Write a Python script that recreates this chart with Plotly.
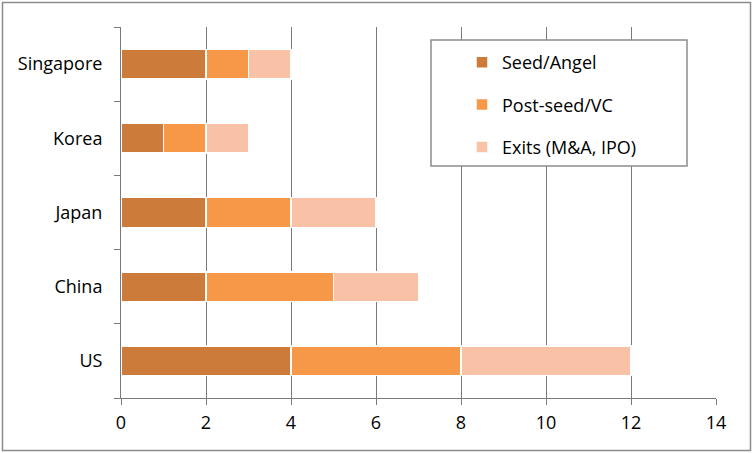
import plotly.graph_objects as go

categories = ["US", "China", "Japan", "Korea", "Singapore"]
seed_angel = [4, 2, 2, 1, 2]
post_seed_vc = [4, 3, 2, 1, 1]
exits = [4, 2, 2, 1, 1]
series_names = ["Seed/Angel", "Post-seed/VC", "Exits (M&A, IPO)"]
colors = ["#CD7B3B", "#F79848", "#F9C2A7"]
x_ticks = [0, 2, 4, 6, 8, 10, 12, 14]

fig = go.Figure()
for i, (name, vals) in enumerate(zip(series_names, [seed_angel, post_seed_vc, exits])):
    fig.add_trace(go.Bar(
        y=categories, x=vals, name=name, orientation="h",
        marker=dict(color=colors[i], line=dict(color="white", width=1.5)),
        legendgroup=f"g{i}",
    ))

L, R, T, B = 121, 37, 27, 55
W, H = 753, 453
pw, ph = W - L - R, H - T - B

def px_x(px):
    return (px - L) / pw

def px_y(py):
    return (H - B - py) / ph

fig.update_layout(
    width=W, height=H,
    margin=dict(l=L, r=R, t=T, b=B, pad=0, autoexpand=False),
    barmode="stack", bargap=0.6,
    plot_bgcolor="white", paper_bgcolor="white",
    font=dict(family="Open Sans, Lato, sans-serif", size=18, color="black"),
    showlegend=True,
    legend=dict(
        x=px_x(462), y=px_y(44), xanchor="left", yanchor="top",
        bgcolor="rgba(0,0,0,0)", borderwidth=0,
        traceorder="grouped", tracegroupgap=16,
        font=dict(size=18),
    ),
    xaxis=dict(
        range=[0, 14], tickvals=x_ticks, showgrid=True, gridcolor="#7a7a7a", gridwidth=1,
        zeroline=False, showline=True, linecolor="#7a7a7a", linewidth=1,
        ticks="outside", ticklen=6, tickcolor="#7a7a7a", tickfont=dict(size=18),
        ticklabelstandoff=2, automargin=False,
    ),
    yaxis=dict(
        showgrid=False, showline=True, linecolor="#7a7a7a", linewidth=1,
        ticks="outside", ticklen=6, tickcolor="#7a7a7a", tickson="boundaries",
        tickfont=dict(size=18), ticklabelstandoff=14, automargin=False,
    ),
    shapes=[
        dict(type="rect", xref="paper", yref="paper",
             x0=px_x(431), x1=px_x(687), y0=px_y(166), y1=px_y(40),
             line=dict(color="#8c8c8c", width=1.5), fillcolor="white", layer="above"),
        dict(type="rect", xref="paper", yref="paper",
             x0=px_x(2.5), x1=px_x(750.5), y0=px_y(450.5), y1=px_y(2.5),
             line=dict(color="#8c8c8c", width=1.5), fillcolor="rgba(0,0,0,0)", layer="below"),
    ],
)

fig.write_html("out.html", config={"displayModeBar": False},
               post_script="document.body.style.margin='0';document.body.style.padding='0';")
